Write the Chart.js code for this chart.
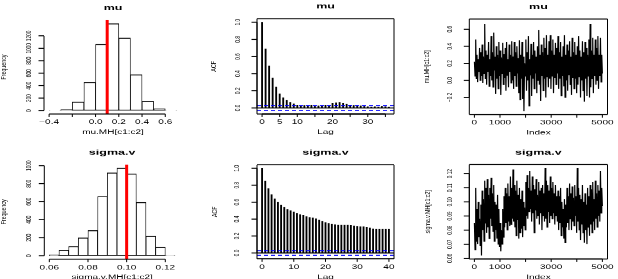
<!DOCTYPE html>
<html>
<head>
<meta charset="utf-8">
<script src="https://cdn.jsdelivr.net/npm/chart.js@4.4.1/dist/chart.umd.min.js"></script>
<style>
html, body { margin: 0; padding: 0; background: #fff; }
#wrap { position: relative; width: 618px; height: 279px; overflow: hidden; }
#wrap canvas { position: absolute; left: 0; top: 0; }
</style>
</head>
<body>
<div id="wrap">
<canvas id="c1" width="618" height="498" style="width:618px;height:279px"></canvas>
<canvas id="c2" width="618" height="498" style="width:618px;height:279px"></canvas>
<canvas id="c3" width="618" height="498" style="width:618px;height:279px"></canvas>
<canvas id="c4" width="618" height="498" style="width:618px;height:279px"></canvas>
<canvas id="c5" width="618" height="498" style="width:618px;height:279px"></canvas>
<canvas id="c6" width="618" height="498" style="width:618px;height:279px"></canvas>
</div>
<script>
/* global Chart */
// ---- data ----
var muHistBreaks = [-0.4, -0.3, -0.2, -0.1, 0.0, 0.1, 0.2, 0.3, 0.4, 0.5, 0.6, 0.7];
var muHistCounts = [2, 16, 139, 455, 1066, 1398, 1168, 578, 150, 32, 2];
var sigmaHistBreaks = [0.060, 0.065, 0.070, 0.075, 0.080, 0.085, 0.090, 0.095, 0.100, 0.105, 0.110, 0.115, 0.120, 0.125];
var sigmaHistCounts = [10, 63, 104, 200, 281, 659, 922, 974, 911, 593, 219, 96, 3];
var muTrue = 0.1;
var sigmaTrue = 0.1;

var muAcf = [1.00, 0.69, 0.49, 0.35, 0.245, 0.165, 0.12, 0.09, 0.065, 0.05, 0.035, 0.025, 0.03, 0.03, 0.035, 0.02,
  0.025, 0.03, 0.035, 0.03, 0.055, 0.06, 0.065, 0.055, 0.045, 0.035, 0.03, 0.03, 0.025, 0.02, 0.015, 0.01, 0.015,
  0.01, 0.02, 0.015, 0.01];
var sigmaAcf = [1.00, 0.85, 0.76, 0.69, 0.64, 0.60, 0.565, 0.54, 0.515, 0.50, 0.485, 0.47, 0.455, 0.445, 0.43, 0.42,
  0.415, 0.405, 0.39, 0.375, 0.36, 0.35, 0.34, 0.335, 0.33, 0.33, 0.33, 0.33, 0.325, 0.32, 0.315, 0.31, 0.31, 0.305,
  0.295, 0.285, 0.28, 0.28, 0.28, 0.28, 0.28];
var acfCI = 0.028;

var traceLength = 5000;
var muTrace = [
  0.22, 0.05, 0.48, 0.02, 0.30, -0.02, 0.25, 0.10, 0.38, 0.00,
  0.33, 0.05, 0.42, -0.03, 0.28, 0.08, 0.66, 0.02, 0.35, -0.05,
  0.30, 0.10, 0.45, -0.07, 0.25, 0.05, 0.52, 0.00, 0.33, -0.08,
  0.56, 0.12, 0.28, -0.16, 0.40, 0.02, 0.30, -0.10, 0.45, 0.05,
  0.35, -0.17, 0.27, 0.08, 0.44, -0.05, 0.31, 0.03, 0.38, -0.12,
  0.45, 0.06, 0.25, -0.08, 0.42, 0.10, 0.30, -0.03, 0.46, 0.00,
  0.28, -0.10, 0.45, 0.05, 0.33, -0.07, 0.40, 0.08, 0.26, -0.15,
  0.47, -0.23, 0.30, 0.02, 0.45, -0.22, 0.28, -0.36, 0.20, 0.05,
  0.48, -0.12, 0.33, 0.00, 0.52, -0.30, 0.25, 0.06, 0.43, -0.18,
  0.30, 0.02, 0.45, -0.10, 0.35, 0.08, 0.28, -0.15, 0.40, 0.00,
  0.59, -0.05, 0.30, -0.24, 0.42, 0.05, 0.33, -0.12, 0.50, 0.02,
  0.38, -0.20, 0.53, 0.04, 0.30, -0.08, 0.46, 0.02, 0.53, -0.10,
  0.35, 0.05, 0.48, -0.15, 0.30, 0.03, 0.44, -0.05, 0.38, 0.08,
  0.52, -0.10, 0.33, 0.02, 0.45, -0.18, 0.28, 0.05, 0.40, -0.07,
  0.53, -0.20, 0.30, 0.00, 0.42, -0.12, 0.35, 0.06, 0.46, -0.05,
  0.28, -0.17, 0.50, 0.03, 0.33, -0.10, 0.45, 0.02, 0.30, -0.15,
  0.40, -0.05, 0.52, 0.04, 0.35, -0.20, 0.28, 0.00, 0.46, -0.12,
  0.33, -0.25, 0.45, 0.02, 0.38, -0.18, 0.30, 0.05, 0.48, -0.20,
  0.66, -0.08, 0.35, 0.02, 0.50, -0.15, 0.30, 0.05, 0.48, -0.05,
  0.38, 0.00, 0.52, -0.10, 0.30, 0.05, 0.50, -0.02, 0.30, 0.08
];
var sigmaTrace = [
  0.085, 0.066, 0.110, 0.072, 0.095, 0.070, 0.100, 0.075, 0.088, 0.069,
  0.098, 0.062, 0.108, 0.080, 0.102, 0.072, 0.115, 0.085, 0.110, 0.078,
  0.116, 0.082, 0.105, 0.074, 0.110, 0.088, 0.117, 0.083, 0.106, 0.079,
  0.112, 0.072, 0.100, 0.080, 0.098, 0.074, 0.105, 0.070, 0.095, 0.068,
  0.085, 0.065, 0.080, 0.070, 0.095, 0.075, 0.104, 0.082, 0.110, 0.085,
  0.106, 0.080, 0.113, 0.086, 0.104, 0.083, 0.118, 0.084, 0.110, 0.088,
  0.123, 0.086, 0.112, 0.082, 0.108, 0.076, 0.115, 0.087, 0.105, 0.074,
  0.110, 0.078, 0.102, 0.081, 0.108, 0.075, 0.100, 0.083, 0.096, 0.080,
  0.114, 0.090, 0.119, 0.088, 0.110, 0.093, 0.122, 0.095, 0.108, 0.086,
  0.118, 0.092, 0.112, 0.078, 0.109, 0.094, 0.116, 0.088, 0.105, 0.090,
  0.114, 0.084, 0.108, 0.092, 0.110, 0.080, 0.112, 0.090, 0.106, 0.086,
  0.124, 0.088, 0.115, 0.082, 0.112, 0.093, 0.108, 0.085, 0.118, 0.090,
  0.110, 0.088, 0.114, 0.092, 0.106, 0.084, 0.112, 0.090, 0.104, 0.086,
  0.108, 0.080, 0.104, 0.085, 0.110, 0.076, 0.100, 0.082, 0.095, 0.074,
  0.102, 0.071, 0.098, 0.082, 0.110, 0.085, 0.104, 0.080, 0.113, 0.088,
  0.106, 0.080, 0.111, 0.086, 0.103, 0.083, 0.112, 0.090, 0.104, 0.078,
  0.124, 0.086, 0.110, 0.080, 0.105, 0.073, 0.102, 0.084, 0.112, 0.078,
  0.100, 0.071, 0.106, 0.080, 0.098, 0.070, 0.110, 0.082, 0.104, 0.076,
  0.112, 0.084, 0.109, 0.078, 0.114, 0.086, 0.102, 0.080, 0.115, 0.088,
  0.106, 0.082, 0.112, 0.090, 0.108, 0.086, 0.122, 0.092, 0.110, 0.097
];

// ---- ticks and labels ----
var muHistXTicks = [-0.4, -0.2, 0.0, 0.2, 0.4, 0.6];
var muHistXLabels = ['\u22120.4', '', '0.0', '0.2', '0.4', '0.6'];
var muHistYTicks = [0, 200, 400, 600, 800, 1000, 1200];
var muHistYLabels = ['0', '200', '400', '600', '800', '1000', '1200'];
var sigmaHistXTicks = [0.06, 0.08, 0.10, 0.12];
var sigmaHistXLabels = ['0.06', '0.08', '0.10', '0.12'];
var sigmaHistYTicks = [0, 200, 400, 600, 800, 1000];
var sigmaHistYLabels = ['0', '200', '400', '600', '800', '1000'];
var muAcfXTicks = [0, 5, 10, 15, 20, 25, 30, 35];
var muAcfXLabels = ['0', '5', '10', '', '20', '', '30', ''];
var sigmaAcfXTicks = [0, 10, 20, 30, 40];
var sigmaAcfXLabels = ['0', '10', '20', '30', '40'];
var acfYTicks = [0, 0.2, 0.4, 0.6, 0.8, 1.0];
var acfYLabels = ['0.0', '0.2', '0.4', '0.6', '0.8', '1.0'];
var traceXTicks = [0, 1000, 2000, 3000, 4000, 5000];
var traceXLabels = ['0', '1000', '', '3000', '', '5000'];
var muTraceYTicks = [-0.2, 0.0, 0.2, 0.4, 0.6];
var muTraceYLabels = ['\u22120.2', '0.0', '0.2', '0.4', '0.6'];
var sigmaTraceYTicks = [0.06, 0.07, 0.08, 0.09, 0.10, 0.11, 0.12];
var sigmaTraceYLabels = ['0.06', '0.07', '0.08', '0.09', '0.10', '0.11', '0.12'];

// ---- layout: canvas is drawn tall and squashed vertically like the source ----
var W = 618, H = 498, S = 279 / 498;
function oy(v) { return v / S; }

function rAxes(cfg) {
    return {
        id: 'rAxes',
        afterDraw: function (chart) {
            var ctx = chart.ctx, a = chart.chartArea, xs = chart.scales.x, ys = chart.scales.y;
            var TICK = 5.5, HW = 1.8;
            ctx.save();
            ctx.strokeStyle = '#000';
            ctx.fillStyle = '#000';
            function hline(x1, x2, y) { ctx.lineWidth = HW; ctx.beginPath(); ctx.moveTo(x1, y); ctx.lineTo(x2, y); ctx.stroke(); }
            function vline(x, y1, y2) { ctx.lineWidth = 1; ctx.beginPath(); ctx.moveTo(x, y1); ctx.lineTo(x, y2); ctx.stroke(); }
            function vtext(t, x, y, font) {
                ctx.save(); ctx.translate(x, y); ctx.rotate(-Math.PI / 2); ctx.scale(1, 0.85);
                ctx.font = font; ctx.textAlign = 'center'; ctx.textBaseline = 'middle';
                ctx.fillText(t, 0, 0); ctx.restore();
            }
            if (cfg.box) {
                hline(a.left, a.right, a.top); hline(a.left, a.right, a.bottom);
                vline(a.left, a.top, a.bottom); vline(a.right, a.top, a.bottom);
            }
            // x axis
            var xt = cfg.xTicks;
            hline(xs.getPixelForValue(xt[0]), xs.getPixelForValue(xt[xt.length - 1]), a.bottom);
            ctx.font = '10px "Liberation Sans", Arial, sans-serif';
            ctx.textAlign = 'center'; ctx.textBaseline = 'middle';
            xt.forEach(function (t, i) {
                var px = xs.getPixelForValue(t);
                vline(px, a.bottom, a.bottom + TICK);
                if (cfg.xLabels[i]) { ctx.fillText(cfg.xLabels[i], px, a.bottom + oy(8.5)); }
            });
            ctx.fillText(cfg.xTitle, (a.left + a.right) / 2, a.bottom + oy(18.5));
            // y axis
            var yt = cfg.yTicks;
            vline(a.left, ys.getPixelForValue(yt[0]), ys.getPixelForValue(yt[yt.length - 1]));
            yt.forEach(function (t, i) {
                var py = ys.getPixelForValue(t);
                hline(a.left - TICK, a.left, py);
                vtext(cfg.yLabels[i], a.left - cfg.yLabOff, py, '8.5px "Liberation Sans", Arial, sans-serif');
            });
            vtext(cfg.yTitle, a.left - cfg.yTitleOff, (a.top + a.bottom) / 2, '9.5px "Liberation Sans", Arial, sans-serif');
            // main title
            ctx.font = 'bold 12.5px "Liberation Sans", Arial, sans-serif';
            ctx.fillText(cfg.title, (a.left + a.right) / 2, a.top - oy(12));
            ctx.restore();
        }
    };
}

function baseOptions(p, xr, yr) {
    return {
        responsive: false, animation: false, devicePixelRatio: 1, events: [],
        layout: { padding: { left: p.L, right: W - p.R, top: oy(p.T), bottom: H - oy(p.B) } },
        plugins: { legend: { display: false }, tooltip: { enabled: false }, title: { display: false } },
        scales: {
            x: { type: 'linear', display: false, offset: false, min: xr[0], max: xr[1] },
            y: { type: 'linear', display: false, min: yr[0], max: yr[1] }
        }
    };
}

function histPoints(breaks, counts) {
    return counts.map(function (c, i) { return { x: (breaks[i] + breaks[i + 1]) / 2, y: c }; });
}
function acfPoints(v) { return v.map(function (a, i) { return { x: i, y: a }; }); }
function tracePoints(v) {
    return v.map(function (a, i) { return { x: 1 + i * (traceLength - 1) / (v.length - 1), y: a }; });
}
function hLine(xr, y, color, dash) {
    return { type: 'line', data: [{ x: xr[0], y: y }, { x: xr[1], y: y }], borderColor: color, borderWidth: 1.8,
        borderDash: dash || [], pointRadius: 0, order: 0 };
}

function histChart(id, p, xr, yr, breaks, counts, trueVal, axes) {
    return new Chart(document.getElementById(id), {
        type: 'bar',
        data: { datasets: [
            { type: 'line', data: [{ x: trueVal, y: yr[0] }, { x: trueVal, y: yr[1] }], borderColor: '#ff0000',
                borderWidth: 3, pointRadius: 0, order: 0 },
            { type: 'bar', data: histPoints(breaks, counts), backgroundColor: '#ffffff', borderColor: '#000000',
                borderWidth: { top: 1.8, bottom: 1.8, left: 0.8, right: 0.8 }, borderSkipped: false,
                barPercentage: 1, categoryPercentage: 1, order: 1 }
        ] },
        options: baseOptions(p, xr, yr),
        plugins: [rAxes(axes)]
    });
}

function acfChart(id, p, xr, yr, acf, axes) {
    return new Chart(document.getElementById(id), {
        type: 'bar',
        data: { datasets: [
            { type: 'bar', data: acfPoints(acf), backgroundColor: '#000000', barThickness: 1.2, order: 2 },
            hLine(xr, 0, '#000000'),
            hLine(xr, acfCI, '#0000ff', [4, 3]),
            hLine(xr, -acfCI, '#0000ff', [4, 3])
        ] },
        options: baseOptions(p, xr, yr),
        plugins: [rAxes(axes)]
    });
}

function traceChart(id, p, xr, yr, vals, axes) {
    return new Chart(document.getElementById(id), {
        type: 'line',
        data: { datasets: [
            { data: tracePoints(vals), borderColor: '#000000', borderWidth: 1.2, pointRadius: 0, tension: 0 }
        ] },
        options: baseOptions(p, xr, yr),
        plugins: [rAxes(axes)]
    });
}

histChart('c1', { L: 44, R: 182, T: 20, B: 114 }, [-0.444, 0.744], [-56, 1454],
    muHistBreaks, muHistCounts, muTrue,
    { title: 'mu', xTitle: 'mu.MH[c1:c2]', yTitle: 'Frequency', xTicks: muHistXTicks, xLabels: muHistXLabels,
      yTicks: muHistYTicks, yLabels: muHistYLabels, yLabOff: 15, yTitleOff: 40, box: false });

acfChart('c2', { L: 257, R: 394, T: 18.7, B: 114 }, [-1.44, 37.44], [-0.071, 1.041], muAcf,
    { title: 'mu', xTitle: 'Lag', yTitle: 'ACF', xTicks: muAcfXTicks, xLabels: muAcfXLabels,
      yTicks: acfYTicks, yLabels: acfYLabels, yLabOff: 18.5, yTitleOff: 43, box: true });

traceChart('c3', { L: 469.3, R: 607.5, T: 19, B: 114.5 }, [-199, 5200], [-0.40, 0.72], muTrace,
    { title: 'mu', xTitle: 'Index', yTitle: 'mu.MH[c1:c2]', xTicks: traceXTicks, xLabels: traceXLabels,
      yTicks: muTraceYTicks, yLabels: muTraceYLabels, yLabOff: 19, yTitleOff: 43, box: true });

histChart('c4', { L: 44.3, R: 180, T: 164.5, B: 259.2 }, [0.0574, 0.1276], [-39, 1013],
    sigmaHistBreaks, sigmaHistCounts, sigmaTrue,
    { title: 'sigma.v', xTitle: 'sigma.v.MH[c1:c2]', yTitle: 'Frequency', xTicks: sigmaHistXTicks,
      xLabels: sigmaHistXLabels, yTicks: sigmaHistYTicks, yLabels: sigmaHistYLabels, yLabOff: 15, yTitleOff: 41,
      box: false });

acfChart('c5', { L: 257, R: 394, T: 164.8, B: 258.8 }, [-1.6, 41.6], [-0.069, 1.041], sigmaAcf,
    { title: 'sigma.v', xTitle: 'Lag', yTitle: 'ACF', xTicks: sigmaAcfXTicks, xLabels: sigmaAcfXLabels,
      yTicks: acfYTicks, yLabels: acfYLabels, yLabOff: 20, yTitleOff: 42, box: true });

traceChart('c6', { L: 469.3, R: 607.5, T: 164.5, B: 259 }, [-199, 5200], [0.0595, 0.1265], sigmaTrace,
    { title: 'sigma.v', xTitle: 'Index', yTitle: 'sigma.v.MH[c1:c2]', xTicks: traceXTicks, xLabels: traceXLabels,
      yTicks: sigmaTraceYTicks, yLabels: sigmaTraceYLabels, yLabOff: 19, yTitleOff: 42, box: true });
</script>
</body>
</html>
